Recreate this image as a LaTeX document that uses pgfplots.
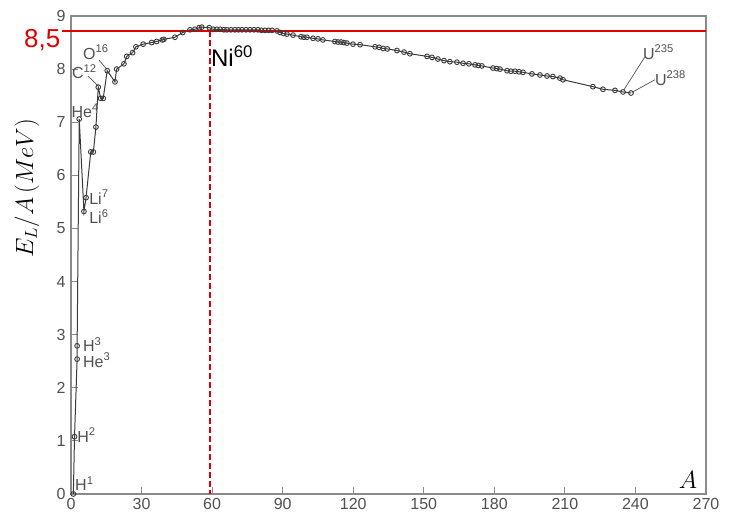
\documentclass[border=0pt]{standalone}
\usepackage{pgfplots}
\pgfplotsset{compat=1.18}
\usepackage{pgfplotstable}
\usepackage{fontspec}
\setmainfont{Liberation Sans}
\definecolor{axgray}{HTML}{8A8A8A}
\definecolor{txtgray}{HTML}{505050}
\definecolor{curve}{HTML}{3A3A3A}
\definecolor{redline}{HTML}{E00000}

\pgfplotstableread{
A E
1 0
1.5 1.08
2.6 2.54
2.6 2.79
3.5 7.06
5.5 5.32
6.4 5.58
8.4 6.44
9.5 6.44
10.6 6.91
11.6 7.66
12.6 7.45
13.7 7.45
15.4 7.97
18.7 7.76
19.4 8.00
22.5 8.10
23.7 8.24
26.2 8.31
27.6 8.42
30.7 8.47
34.3 8.50
36.4 8.52
38.8 8.55
39.5 8.56
44.2 8.60
47.5 8.69
50.6 8.74
52.7 8.75
54.5 8.78
55.6 8.79
58.8 8.78
60.4 8.75
62.0 8.75
63.4 8.75
65.0 8.74
66.3 8.74
68.0 8.74
69.7 8.74
71.2 8.74
72.7 8.74
74.4 8.74
76.1 8.74
77.8 8.74
79.5 8.74
81.0 8.73
82.5 8.73
84.0 8.73
85.5 8.73
87.6 8.72
88.9 8.69
90.4 8.67
91.8 8.66
94.4 8.64
97.8 8.61
99.0 8.60
100.3 8.60
102.9 8.58
105.0 8.57
107.1 8.55
112.2 8.52
113.5 8.51
114.8 8.51
116.0 8.50
117.3 8.49
119.9 8.47
122.9 8.46
129.3 8.42
131.0 8.41
132.7 8.39
134.5 8.38
138.6 8.35
141.6 8.32
144.1 8.29
151.4 8.24
153.5 8.22
156.0 8.19
158.6 8.16
161.1 8.14
164.1 8.13
166.7 8.11
169.2 8.10
171.8 8.08
173.2 8.07
174.7 8.06
179.4 8.02
181.0 8.01
182.4 8.00
185.4 7.97
187.0 7.96
188.8 7.96
190.5 7.95
192.2 7.94
196.0 7.91
199.4 7.89
202.4 7.87
204.9 7.86
207.9 7.83
209.2 7.80
221.9 7.67
226.2 7.62
231.3 7.60
234.7 7.57
238.1 7.55
}\bindata

\begin{document}
\begin{tikzpicture}
\begin{axis}[scale only axis,width=635pt,height=478pt,
xmin=0,xmax=270,ymin=0,ymax=9,
xtick={0,30,...,270},ytick={0,1,...,9},
xtick pos=bottom,ytick pos=left,tick align=inside,
major tick length=7pt,
tick style={axgray,line width=0.8pt},
axis line style={axgray,line width=1.6pt},
tick label style={txtgray,font=\fontsize{16}{17}\selectfont},
/pgf/number format/assume math mode=true,
xticklabel style={yshift=-1pt},
yticklabel style={xshift=-2pt},
clip=false]
\addplot[curve,line width=1pt,mark=o,mark size=2.4pt,
  mark options={fill=white,draw=curve,line width=0.9pt}] table[x=A,y=E]{\bindata};
% guide lines
\draw[redline,line width=2.4pt] (axis cs:-3.8,8.72) -- (axis cs:270,8.72);
\draw[redline,line width=1.8pt,dash pattern=on 6pt off 3pt] (axis cs:59.1,8.72) -- (axis cs:59.1,0);
\node[anchor=east,redline,font=\fontsize{26}{27}\selectfont,inner sep=0pt] at (axis cs:-4.5,8.55) {8,5};
\node[anchor=west,black,font=\fontsize{24}{25}\selectfont,inner sep=0pt] at (axis cs:59.5,8.25) {Ni\textsuperscript{60}};
% nuclide labels
\begin{scope}[every node/.style={anchor=west,txtgray,inner sep=0pt,font=\fontsize{16}{17}\selectfont}]
\node at (axis cs:1.7,0.19) {H\textsuperscript{1}};
\node at (axis cs:2.6,1.11) {H\textsuperscript{2}};
\node at (axis cs:5.1,2.81) {H\textsuperscript{3}};
\node at (axis cs:5.1,2.52) {He\textsuperscript{3}};
\node at (axis cs:0.2,7.21) {He\textsuperscript{4}};
\node at (axis cs:7.7,5.59) {Li\textsuperscript{7}};
\node at (axis cs:7.7,5.22) {Li\textsuperscript{6}};
\node at (axis cs:0.4,7.95) {C\textsuperscript{12}};
\node at (axis cs:5.1,8.32) {O\textsuperscript{16}};
\node at (axis cs:243.2,8.32) {U\textsuperscript{235}};
\node at (axis cs:248.3,7.83) {U\textsuperscript{238}};
\end{scope}
\draw[txtgray,line width=0.7pt] (axis cs:7.2,7.87) -- (axis cs:11.4,7.69);
\draw[txtgray,line width=0.7pt] (axis cs:11.9,8.17) -- (axis cs:15.2,8.00);
\draw[txtgray,line width=0.7pt] (axis cs:244,8.23) -- (axis cs:235.1,7.61);
\draw[txtgray,line width=0.7pt] (axis cs:248.3,7.80) -- (axis cs:238.4,7.56);
% axis names
\node[black,font=\fontsize{25}{27}\selectfont] at (axis cs:262.3,0.26) {$A$};
\node[black,rotate=90,font=\fontsize{23}{25}\selectfont] at ([xshift=-44pt]axis cs:0,5.76) {$E_L/A\,(MeV)$};
\end{axis}
\pgfresetboundingbox
\path (current axis.south west) ++(-71pt,-25pt) rectangle ++(731pt,519pt);
\end{tikzpicture}
\end{document}
